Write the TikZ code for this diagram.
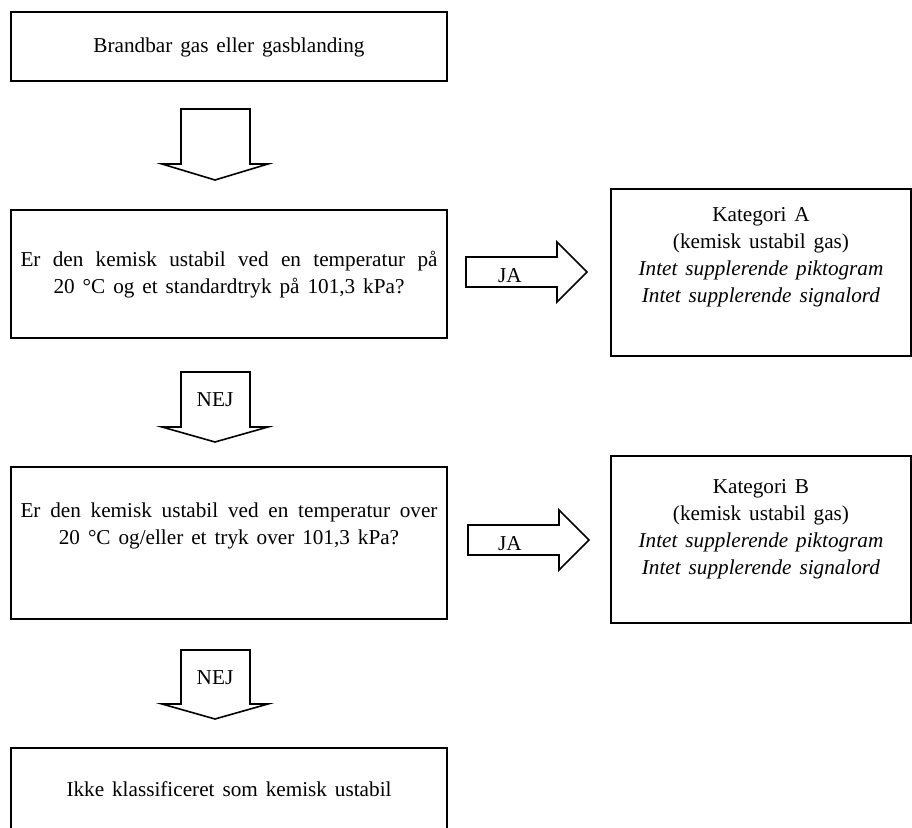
\documentclass[tikz,border=0pt]{standalone}
\usepackage{fontspec}
\setmainfont{Liberation Serif}[WordSpace=1.5]
\usetikzlibrary{positioning}

\tikzset{
  box/.style={draw,line width=0.8pt,minimum width=218pt,inner sep=0pt},
  catbox/.style={draw,line width=0.8pt,minimum width=150pt,minimum height=83.5pt,inner sep=0pt},
  txt/.style={align=center,font=\fontsize{10.6}{13.5}\selectfont,inner sep=0pt},
  blockarrow/.style={draw,line width=0.8pt,line join=miter},
}

\begin{document}
\begin{tikzpicture}[x=0.5pt,y=-0.5pt]
\clip (0,0) rectangle (912,828);

% left column
\node[box,minimum height=34.5pt] (start) at (229,46.5) {};
\node[txt] (starttxt) at (229,47) {Brandbar gas eller gasblanding};
\node[box,minimum height=64pt] (qa) at (229,274) {};
\node[txt] (qatxt) at (229,275) {\makebox[208.5pt][s]{Er den kemisk ustabil ved en temperatur på}\\20~°C og et standardtryk på 101,3 kPa?};
\node[box,minimum height=76pt] (qb) at (229,543) {};
\node[txt] (qbtxt) at (229,526) {\makebox[208.5pt][s]{Er den kemisk ustabil ved en temperatur over}\\20~°C og/eller et tryk over 101,3 kPa?};
\node[box,minimum height=65pt] (ncl) at (229,813) {};
\node[txt] (ncltxt) at (229,789) {Ikke klassificeret som kemisk ustabil};

% right column
\node[catbox] (cata) at (761,272.5) {};
\node[txt] (catatxt) at (761,257) {Kategori A\\(kemisk ustabil gas)\\\textit{Intet supplerende piktogram}\\\textit{Intet supplerende signalord}};
\node[catbox] (catb) at (761,539.5) {};
\node[txt] (catbtxt) at (761,529) {Kategori B\\(kemisk ustabil gas)\\\textit{Intet supplerende piktogram}\\\textit{Intet supplerende signalord}};

% down arrows
\draw[blockarrow] (181,109) -- (250,109) -- (250,164) -- (268,164) -- (215,180) -- (162,164) -- (181,164) -- cycle;
\draw[blockarrow] (181,372) -- (250,372) -- (250,427) -- (268,427) -- (215,442) -- (162,427) -- (181,427) -- cycle;
\node[txt] (nej1) at (215,400) {NEJ};
\draw[blockarrow] (181,650) -- (250,650) -- (250,704) -- (268,704) -- (215,719) -- (162,704) -- (181,704) -- cycle;
\node[txt] (nej2) at (215,678) {NEJ};

% right arrows
\draw[blockarrow] (466,257) -- (557,257) -- (557,242) -- (587,272) -- (557,302) -- (557,287) -- (466,287) -- cycle;
\node[txt] (ja1) at (510,276) {JA};
\draw[blockarrow] (468,525) -- (559,525) -- (559,510) -- (589,540) -- (559,570) -- (559,555) -- (468,555) -- cycle;
\node[txt] (ja2) at (510,544) {JA};
\end{tikzpicture}
\end{document}
